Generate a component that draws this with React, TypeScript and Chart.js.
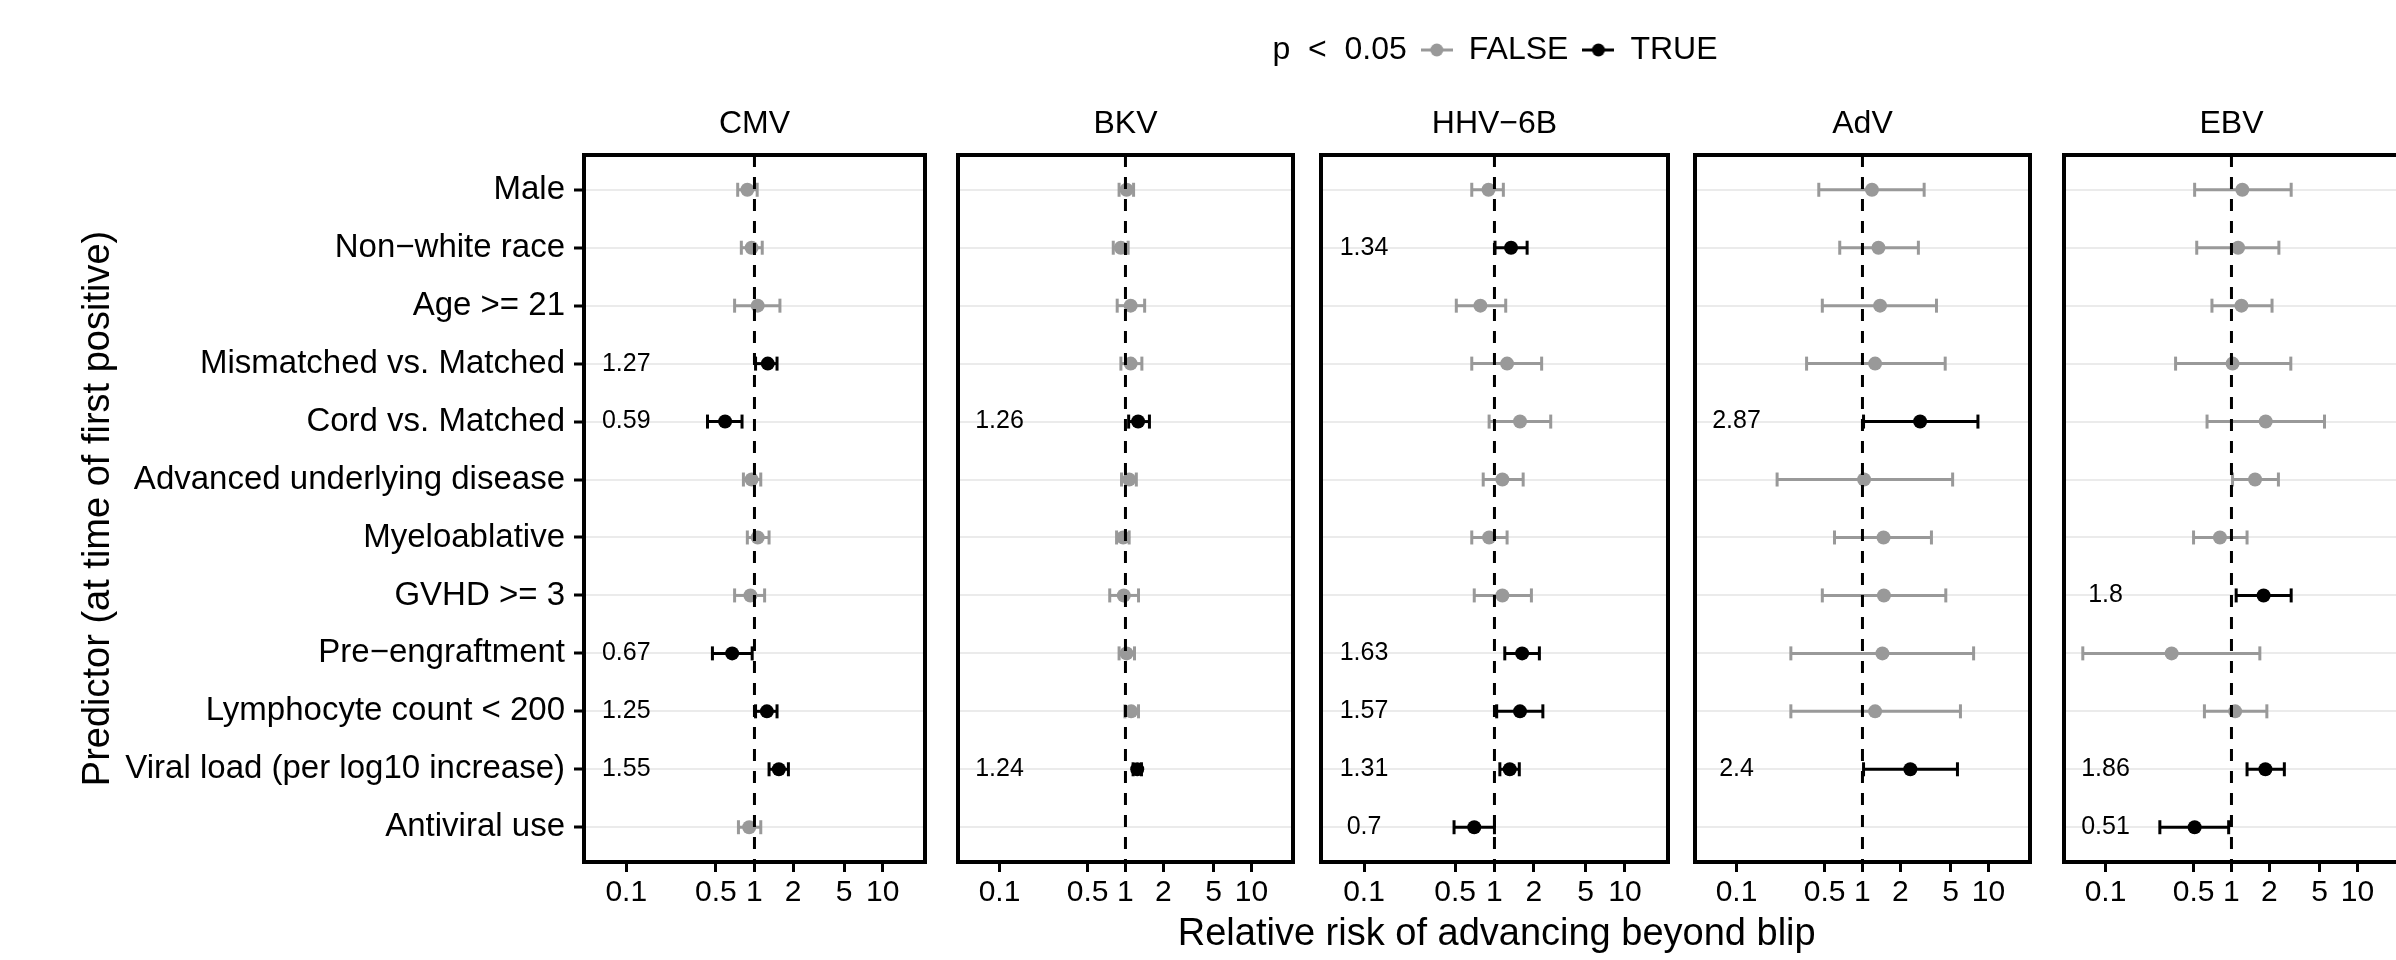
import React, { useEffect, useRef } from 'react';
import { Chart, registerables } from 'chart.js';

Chart.register(...registerables);
Chart.defaults.font.family = "'Liberation Sans', Arial, Helvetica, sans-serif";
Chart.defaults.color = '#000';

// ---------------- data ----------------
const PREDICTORS = [
  'Male',
  'Non−white race',
  'Age >= 21',
  'Mismatched vs. Matched',
  'Cord vs. Matched',
  'Advanced underlying disease',
  'Myeloablative',
  'GVHD >= 3',
  'Pre−engraftment',
  'Lymphocyte count < 200',
  'Viral load (per log10 increase)',
  'Antiviral use',
];

const VIRUSES = ['CMV', 'BKV', 'HHV−6B', 'AdV', 'EBV'];

const X_TICKS = [0.1, 0.5, 1, 2, 5, 10];
const X_MIN = 0.0468;
const X_MAX = 21.4;
const LABEL_AT = 0.1;
const REF_LINE = 1;

const CMV_EST = [0.88, 0.95, 1.06, 1.27, 0.59, 0.95, 1.06, 0.93, 0.67, 1.25, 1.55, 0.91];
const CMV_LO = [0.74, 0.79, 0.70, 1.02, 0.43, 0.82, 0.88, 0.70, 0.47, 1.02, 1.30, 0.75];
const CMV_HI = [1.05, 1.15, 1.58, 1.50, 0.80, 1.12, 1.30, 1.20, 0.96, 1.50, 1.84, 1.12];
const CMV_SIG = [false, false, false, true, true, false, false, false, true, true, true, false];

const BKV_EST = [1.02, 0.92, 1.10, 1.10, 1.26, 1.07, 0.96, 0.97, 1.02, 1.11, 1.24, null];
const BKV_LO = [0.89, 0.80, 0.86, 0.92, 1.06, 0.93, 0.85, 0.75, 0.89, 0.99, 1.15, null];
const BKV_HI = [1.16, 1.05, 1.42, 1.35, 1.55, 1.22, 1.07, 1.27, 1.18, 1.27, 1.34, null];
const BKV_SIG = [false, false, false, false, true, false, false, false, false, false, true, false];

const HHV_EST = [0.90, 1.34, 0.78, 1.25, 1.57, 1.15, 0.91, 1.15, 1.63, 1.57, 1.31, 0.70];
const HHV_LO = [0.67, 1.01, 0.51, 0.67, 0.91, 0.82, 0.67, 0.70, 1.20, 1.04, 1.10, 0.49];
const HHV_HI = [1.17, 1.78, 1.22, 2.30, 2.70, 1.66, 1.25, 1.92, 2.21, 2.35, 1.55, 1.00];
const HHV_SIG = [false, true, false, false, false, false, false, false, true, true, true, true];

const ADV_EST = [1.19, 1.34, 1.38, 1.26, 2.87, 1.03, 1.47, 1.48, 1.44, 1.26, 2.40, null];
const ADV_LO = [0.45, 0.66, 0.48, 0.36, 1.02, 0.21, 0.60, 0.48, 0.27, 0.27, 1.02, null];
const ADV_HI = [3.09, 2.78, 3.87, 4.54, 8.26, 5.20, 3.53, 4.59, 7.63, 6.00, 5.68, null];
const ADV_SIG = [false, false, false, false, true, false, false, false, false, false, true, false];

const EBV_EST = [1.22, 1.13, 1.20, 1.02, 1.87, 1.54, 0.81, 1.80, 0.335, 1.07, 1.86, 0.51];
const EBV_LO = [0.51, 0.53, 0.70, 0.36, 0.64, 1.02, 0.50, 1.09, 0.066, 0.61, 1.33, 0.27];
const EBV_HI = [2.98, 2.38, 2.10, 2.96, 5.48, 2.36, 1.33, 2.98, 1.68, 1.91, 2.63, 0.95];
const EBV_SIG = [false, false, false, false, false, false, false, true, false, false, true, true];

const PANELS = [
  { name: VIRUSES[0], est: CMV_EST, lo: CMV_LO, hi: CMV_HI, sig: CMV_SIG },
  { name: VIRUSES[1], est: BKV_EST, lo: BKV_LO, hi: BKV_HI, sig: BKV_SIG },
  { name: VIRUSES[2], est: HHV_EST, lo: HHV_LO, hi: HHV_HI, sig: HHV_SIG },
  { name: VIRUSES[3], est: ADV_EST, lo: ADV_LO, hi: ADV_HI, sig: ADV_SIG },
  { name: VIRUSES[4], est: EBV_EST, lo: EBV_LO, hi: EBV_HI, sig: EBV_SIG },
];

// ---------------- layout / style ----------------
const PANEL_LEFTS = [584, 952, 1321, 1689, 2058];
const PANEL_W = 347;
const MID_LEFT_W = 187;
const MID_RIGHT_W = 202;
const GREY = '#999999';
const BLACK = '#000000';

const framePlugin = {
  id: 'frame',
  afterDatasetsDraw(chart: any) {
    const { ctx, chartArea } = chart;
    ctx.save();
    ctx.strokeStyle = '#000';
    ctx.lineWidth = 4;
    ctx.strokeRect(chartArea.left, chartArea.top, chartArea.right - chartArea.left, chartArea.bottom - chartArea.top);
    ctx.restore();
  },
};

const valueLabelPlugin = {
  id: 'valueLabels',
  afterDatasetsDraw(chart: any, _args: any, opts: any) {
    const items = (opts && opts.items) || [];
    const xs = chart.scales.x;
    const ys = chart.scales.y;
    const ctx = chart.ctx;
    ctx.save();
    ctx.font = "25px 'Liberation Sans', Arial, sans-serif";
    ctx.fillStyle = '#000';
    ctx.textAlign = 'center';
    ctx.textBaseline = 'middle';
    items.forEach((it: any) => {
      ctx.fillText(it.text, xs.getPixelForValue(LABEL_AT), ys.getPixelForValue(it.row));
    });
    ctx.restore();
  },
};

function makeSymbol(color: string) {
  const c = document.createElement('canvas');
  c.width = 32;
  c.height = 16;
  const g = c.getContext('2d')!;
  g.strokeStyle = color;
  g.lineWidth = 3;
  g.beginPath();
  g.moveTo(0, 8);
  g.lineTo(32, 8);
  g.stroke();
  g.fillStyle = color;
  g.beginPath();
  g.arc(16, 8, 6.5, 0, Math.PI * 2);
  g.fill();
  return c;
}

function makeBlank() {
  const c = document.createElement('canvas');
  c.width = 1;
  c.height = 1;
  return c;
}

function fmt(v: number) {
  return String(Math.round(v * 100) / 100);
}

function buildConfig(i: number): any {
  const p = PANELS[i];
  const isFirst = i === 0;
  const isMid = i === 2;
  const datasets: any[] = [];

  datasets.push({
    type: 'line',
    data: [{ x: REF_LINE, y: -0.6 }, { x: REF_LINE, y: 11.6 }],
    borderColor: BLACK,
    borderWidth: 3,
    borderDash: [12, 10],
    pointRadius: 0,
    order: 0,
  });

  const labels: any[] = [];
  p.est.forEach((e: any, r: number) => {
    if (e == null) return;
    const color = p.sig[r] ? BLACK : GREY;
    datasets.push({
      type: 'scatter',
      data: [{ x: e, y: r }],
      backgroundColor: color,
      borderWidth: 0,
      pointRadius: 7,
      pointHoverRadius: 7,
      order: 1,
    });
    datasets.push({
      type: 'line',
      data: [{ x: p.lo[r], y: r }, { x: p.hi[r], y: r }],
      borderColor: color,
      borderWidth: 3,
      pointStyle: 'line',
      pointRotation: 90,
      pointRadius: 7,
      pointHoverRadius: 7,
      pointBorderWidth: 3,
      pointBorderColor: color,
      pointBackgroundColor: color,
      order: 2,
    });
    if (p.sig[r]) labels.push({ row: r, text: fmt(e) });
  });

  const scales: any = {
    y: {
      type: 'linear',
      min: -0.6,
      max: 11.6,
      reverse: true,
      afterBuildTicks: (s: any) => {
        s.ticks = PREDICTORS.map((_, k) => ({ value: k }));
      },
      afterFit: (s: any) => {
        s.width = isFirst ? 584 : isMid ? MID_LEFT_W : 4;
      },
      grid: {
        color: '#ebebeb',
        lineWidth: 2,
        drawTicks: isFirst,
        tickLength: 10,
        tickWidth: 3,
        tickColor: '#000',
      },
      border: { display: false },
      ticks: {
        display: isFirst,
        autoSkip: false,
        padding: 9,
        color: '#000',
        font: { size: 33 },
        callback: (v: any) => PREDICTORS[v],
      },
      title: {
        display: isFirst,
        text: 'Predictor (at time of first positive)',
        color: '#000',
        font: { size: 38 },
        padding: { top: 76, bottom: 0 },
      },
    },
    x: {
      type: 'logarithmic',
      min: X_MIN,
      max: X_MAX,
      afterBuildTicks: (s: any) => {
        s.ticks = X_TICKS.map((v) => ({ value: v }));
      },
      afterFit: (s: any) => {
        s.height = isMid ? 49 : 98;
      },
      grid: {
        display: true,
        drawOnChartArea: false,
        drawTicks: true,
        tickLength: 10,
        tickWidth: 3,
        tickColor: '#000',
      },
      border: { display: false },
      ticks: {
        autoSkip: false,
        maxRotation: 0,
        minRotation: 0,
        padding: 3,
        color: '#000',
        font: { size: 30 },
        callback: (v: any) => String(v),
      },
    },
  };

  if (isMid) {
    scales.yRight = {
      type: 'linear',
      position: 'right',
      display: true,
      afterFit: (s: any) => {
        s.width = MID_RIGHT_W;
      },
      grid: { display: false },
      border: { display: false },
      ticks: { display: false },
    };
  }

  const greySym = makeSymbol(GREY);
  const blackSym = makeSymbol(BLACK);
  const blank = makeBlank();

  return {
    type: 'scatter',
    data: { datasets },
    plugins: [framePlugin, valueLabelPlugin],
    options: {
      responsive: false,
      animation: false,
      events: [],
      layout: {
        padding: { top: isMid ? 20 : 104.8, left: 0, right: isMid ? 0 : 4, bottom: 0 },
      },
      scales,
      plugins: {
        tooltip: { enabled: false },
        valueLabels: { items: labels },
        title: {
          display: true,
          fullSize: false,
          text: p.name,
          color: '#000',
          font: { size: 32, weight: 'normal' },
          padding: isMid ? { top: 28.8, bottom: 11.8 } : { top: 0, bottom: 11.8 },
        },
        subtitle: {
          display: isMid,
          position: 'bottom',
          text: 'Relative risk of advancing beyond blip ',
          color: '#000',
          font: { size: 38, weight: 'normal' },
          padding: { top: 1.2, bottom: 2.2 },
        },
        legend: {
          display: isMid,
          position: 'top',
          weight: 3000,
          labels: {
            usePointStyle: true,
            boxWidth: 32,
            boxHeight: 32,
            padding: 14,
            color: '#000',
            font: { size: 32 },
            generateLabels: () => [
              { text: 'p  <  0.05', pointStyle: blank, fillStyle: 'rgba(0,0,0,0)', strokeStyle: 'rgba(0,0,0,0)', lineWidth: 0, hidden: false, fontColor: '#000' },
              { text: 'FALSE', pointStyle: greySym, fillStyle: GREY, strokeStyle: GREY, lineWidth: 0, hidden: false, fontColor: '#000' },
              { text: 'TRUE', pointStyle: blackSym, fillStyle: BLACK, strokeStyle: BLACK, lineWidth: 0, hidden: false, fontColor: '#000' },
              { text: '', pointStyle: blank, fillStyle: 'rgba(0,0,0,0)', strokeStyle: 'rgba(0,0,0,0)', lineWidth: 0, hidden: false, fontColor: '#000' },
            ],
          },
        },
      },
    },
  };
}

function canvasGeom(i: number) {
  if (i === 0) return { left: 0, width: PANEL_LEFTS[0] + PANEL_W + 4 };
  if (i === 2) return { left: PANEL_LEFTS[2] - MID_LEFT_W, width: MID_LEFT_W + PANEL_W + MID_RIGHT_W };
  return { left: PANEL_LEFTS[i] - 4, width: PANEL_W + 8 };
}

function Panel({ index }: { index: number }) {
  const ref = useRef<HTMLCanvasElement | null>(null);
  useEffect(() => {
    if (!ref.current) return;
    const chart = new Chart(ref.current, buildConfig(index));
    return () => chart.destroy();
  }, [index]);
  const g = canvasGeom(index);
  return (
    <canvas
      ref={ref}
      width={g.width}
      height={960}
      style={{ position: 'absolute', left: g.left, top: 0, width: g.width, height: 960 }}
    />
  );
}

export default function App() {
  return (
    <div
      style={{
        position: 'fixed',
        left: 0,
        top: 0,
        width: 2396,
        height: 960,
        background: '#fff',
        overflow: 'hidden',
      }}
    >
      {PANELS.map((_, i) => (
        <Panel key={i} index={i} />
      ))}
    </div>
  );
}
